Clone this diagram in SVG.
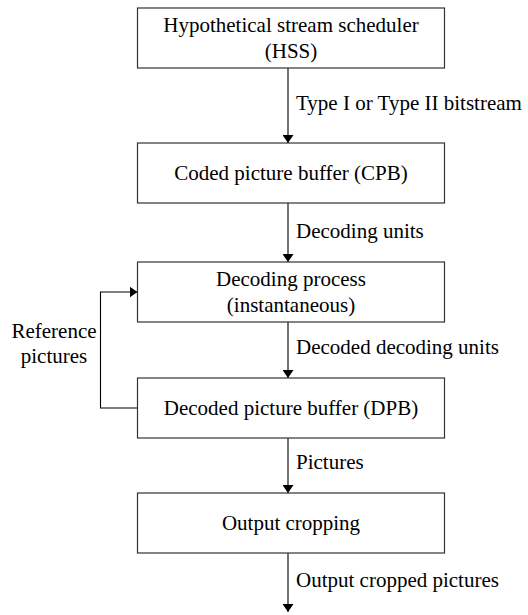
<svg xmlns="http://www.w3.org/2000/svg" width="528" height="615" viewBox="0 0 528 615">
<defs>
<marker id="ah" viewBox="0 0 8 11" refX="8" refY="5.5" markerWidth="8" markerHeight="11" markerUnits="userSpaceOnUse" orient="auto">
<path d="M0,0 L8,5.5 L0,11 Z" fill="#000"/>
</marker>
</defs>
<style>
.box{fill:#fff;stroke:#333;stroke-width:1.2}
.t{font-size:21px;fill:#000}
.m{text-anchor:middle}
.c{fill:none;stroke:#000;stroke-width:1.1}
</style>
<rect width="528" height="615" fill="#fff"/>
<g font-family="Liberation Serif, serif">
<g id="connectors">
<line class="c" x1="288" y1="68" x2="288" y2="143" marker-end="url(#ah)"/>
<line class="c" x1="288" y1="203" x2="288" y2="262" marker-end="url(#ah)"/>
<line class="c" x1="288" y1="322" x2="288" y2="378" marker-end="url(#ah)"/>
<line class="c" x1="288" y1="438" x2="288" y2="493" marker-end="url(#ah)"/>
<line class="c" x1="288" y1="553" x2="288" y2="612" marker-end="url(#ah)"/>
<polyline class="c" points="137.5,408 100.5,408 100.5,292 137.5,292" marker-end="url(#ah)"/>
<text class="t" x="296" y="110">Type I or Type II bitstream</text>
<text class="t" x="296" y="238">Decoding units</text>
<text class="t" x="296" y="354">Decoded decoding units</text>
<text class="t" x="296" y="469">Pictures</text>
<text class="t" x="296" y="587">Output cropped pictures</text>
<text class="t m" x="54" y="338">Reference</text>
<text class="t m" x="54" y="363">pictures</text>
</g>
<g id="hss">
<rect class="box" x="137.5" y="8" width="307" height="60"/>
<text class="t m" x="291" y="32">Hypothetical stream scheduler</text>
<text class="t m" x="291" y="58">(HSS)</text>
</g>
<g id="cpb">
<rect class="box" x="137.5" y="143" width="307" height="60"/>
<text class="t m" x="291" y="180">Coded picture buffer (CPB)</text>
</g>
<g id="decoding">
<rect class="box" x="137.5" y="262" width="307" height="60"/>
<text class="t m" x="291" y="286">Decoding process</text>
<text class="t m" x="291" y="312">(instantaneous)</text>
</g>
<g id="dpb">
<rect class="box" x="137.5" y="378" width="307" height="60"/>
<text class="t m" x="291" y="415">Decoded picture buffer (DPB)</text>
</g>
<g id="cropping">
<rect class="box" x="137.5" y="493" width="307" height="60"/>
<text class="t m" x="291" y="530">Output cropping</text>
</g>
</g>
</svg>
